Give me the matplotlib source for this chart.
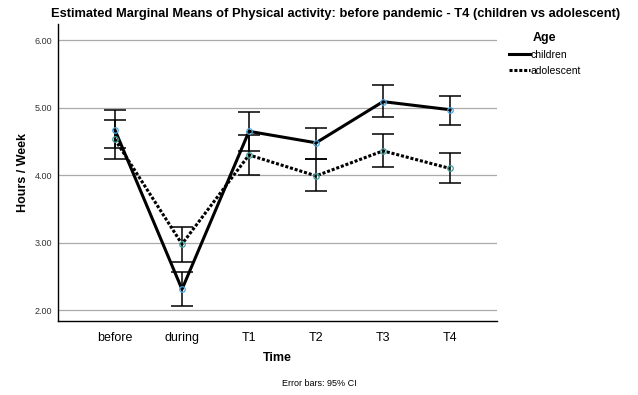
import numpy as np
import matplotlib
matplotlib.use("Agg")
import matplotlib.pyplot as plt

plt.rcParams['font.family'] = ['Liberation Sans', 'DejaVu Sans']

# data
times = ['before', 'during', 'T1', 'T2', 'T3', 'T4']
children_mean = [4.67, 2.31, 4.65, 4.48, 5.09, 4.97]
children_lo = [4.40, 2.06, 4.36, 4.24, 4.86, 4.75]
children_hi = [4.96, 2.56, 4.94, 4.70, 5.33, 5.18]
adol_mean = [4.53, 2.98, 4.30, 3.99, 4.36, 4.10]
adol_lo = [4.24, 2.71, 4.01, 3.76, 4.12, 3.88]
adol_hi = [4.82, 3.23, 4.60, 4.24, 4.61, 4.33]
yticks = [2.0, 3.0, 4.0, 5.0, 6.0]

fig = plt.figure(figsize=(6.38, 3.95), dpi=100)
ax = fig.add_axes([58 / 638, 1 - 321 / 395, (497 - 58) / 638, (321 - 24) / 395])

x = np.arange(len(times))


def draw_series(mean, lo, hi, ls, edge, label):
    mean = np.array(mean)
    yerr = [mean - np.array(lo), np.array(hi) - mean]
    ax.errorbar(x, mean, yerr=yerr, fmt='none', ecolor='black', elinewidth=1.1,
                capsize=8, capthick=1.1, zorder=3)
    ax.plot(x, mean, color='black', lw=2.2, ls=ls, label=label, zorder=4)
    ax.plot(x, mean, 'o', ms=4, mfc='none', mec=edge, mew=0.9, zorder=5)


draw_series(children_mean, children_lo, children_hi, '-', '#4aa6e0', 'children')
draw_series(adol_mean, adol_lo, adol_hi, (0, (1, 0.6)), '#3f9f9a', 'adolescent')

ax.set_xlim(-0.85, 5.7)
ax.set_ylim(1.84, 6.24)
ax.set_xticks(x)
ax.set_xticklabels(times, fontsize=9)
ax.set_yticks(yticks)
ax.set_yticklabels([f'{v:.2f}' for v in yticks], fontsize=6.5, color='#333333')
ax.tick_params(axis='x', length=0, pad=8)
ax.tick_params(axis='y', length=0, pad=4)
ax.yaxis.grid(True, color='#aaaaaa', lw=0.9)
ax.set_axisbelow(True)
for s in ['top', 'right']:
    ax.spines[s].set_visible(False)
for s in ['left', 'bottom']:
    ax.spines[s].set_linewidth(1.0)

ax.set_xlabel('Time', fontsize=9, fontweight='bold', labelpad=6)
ax.set_ylabel('Hours / Week', fontsize=9, fontweight='bold', labelpad=4)

fig.text(336 / 638, 1 - 14 / 395,
         'Estimated Marginal Means of Physical activity: before pandemic - T4 (children vs adolescent)',
         ha='center', va='center', fontsize=9.3, fontweight='bold')
fig.text(319 / 638, 1 - 383 / 395, 'Error bars: 95% CI', ha='center', va='center', fontsize=6.5)

fig.text(533 / 638, 1 - 38 / 395, 'Age', ha='left', va='center', fontsize=9, fontweight='bold')
leg = ax.legend(loc='upper left', bbox_to_anchor=(509 / 638, 1 - 50 / 395),
                bbox_transform=fig.transFigure, frameon=False,
                fontsize=7.5, handlelength=2.0, handletextpad=0.1, labelspacing=0.55,
                borderaxespad=0, borderpad=0)

fig.savefig('out.png', dpi=100)
